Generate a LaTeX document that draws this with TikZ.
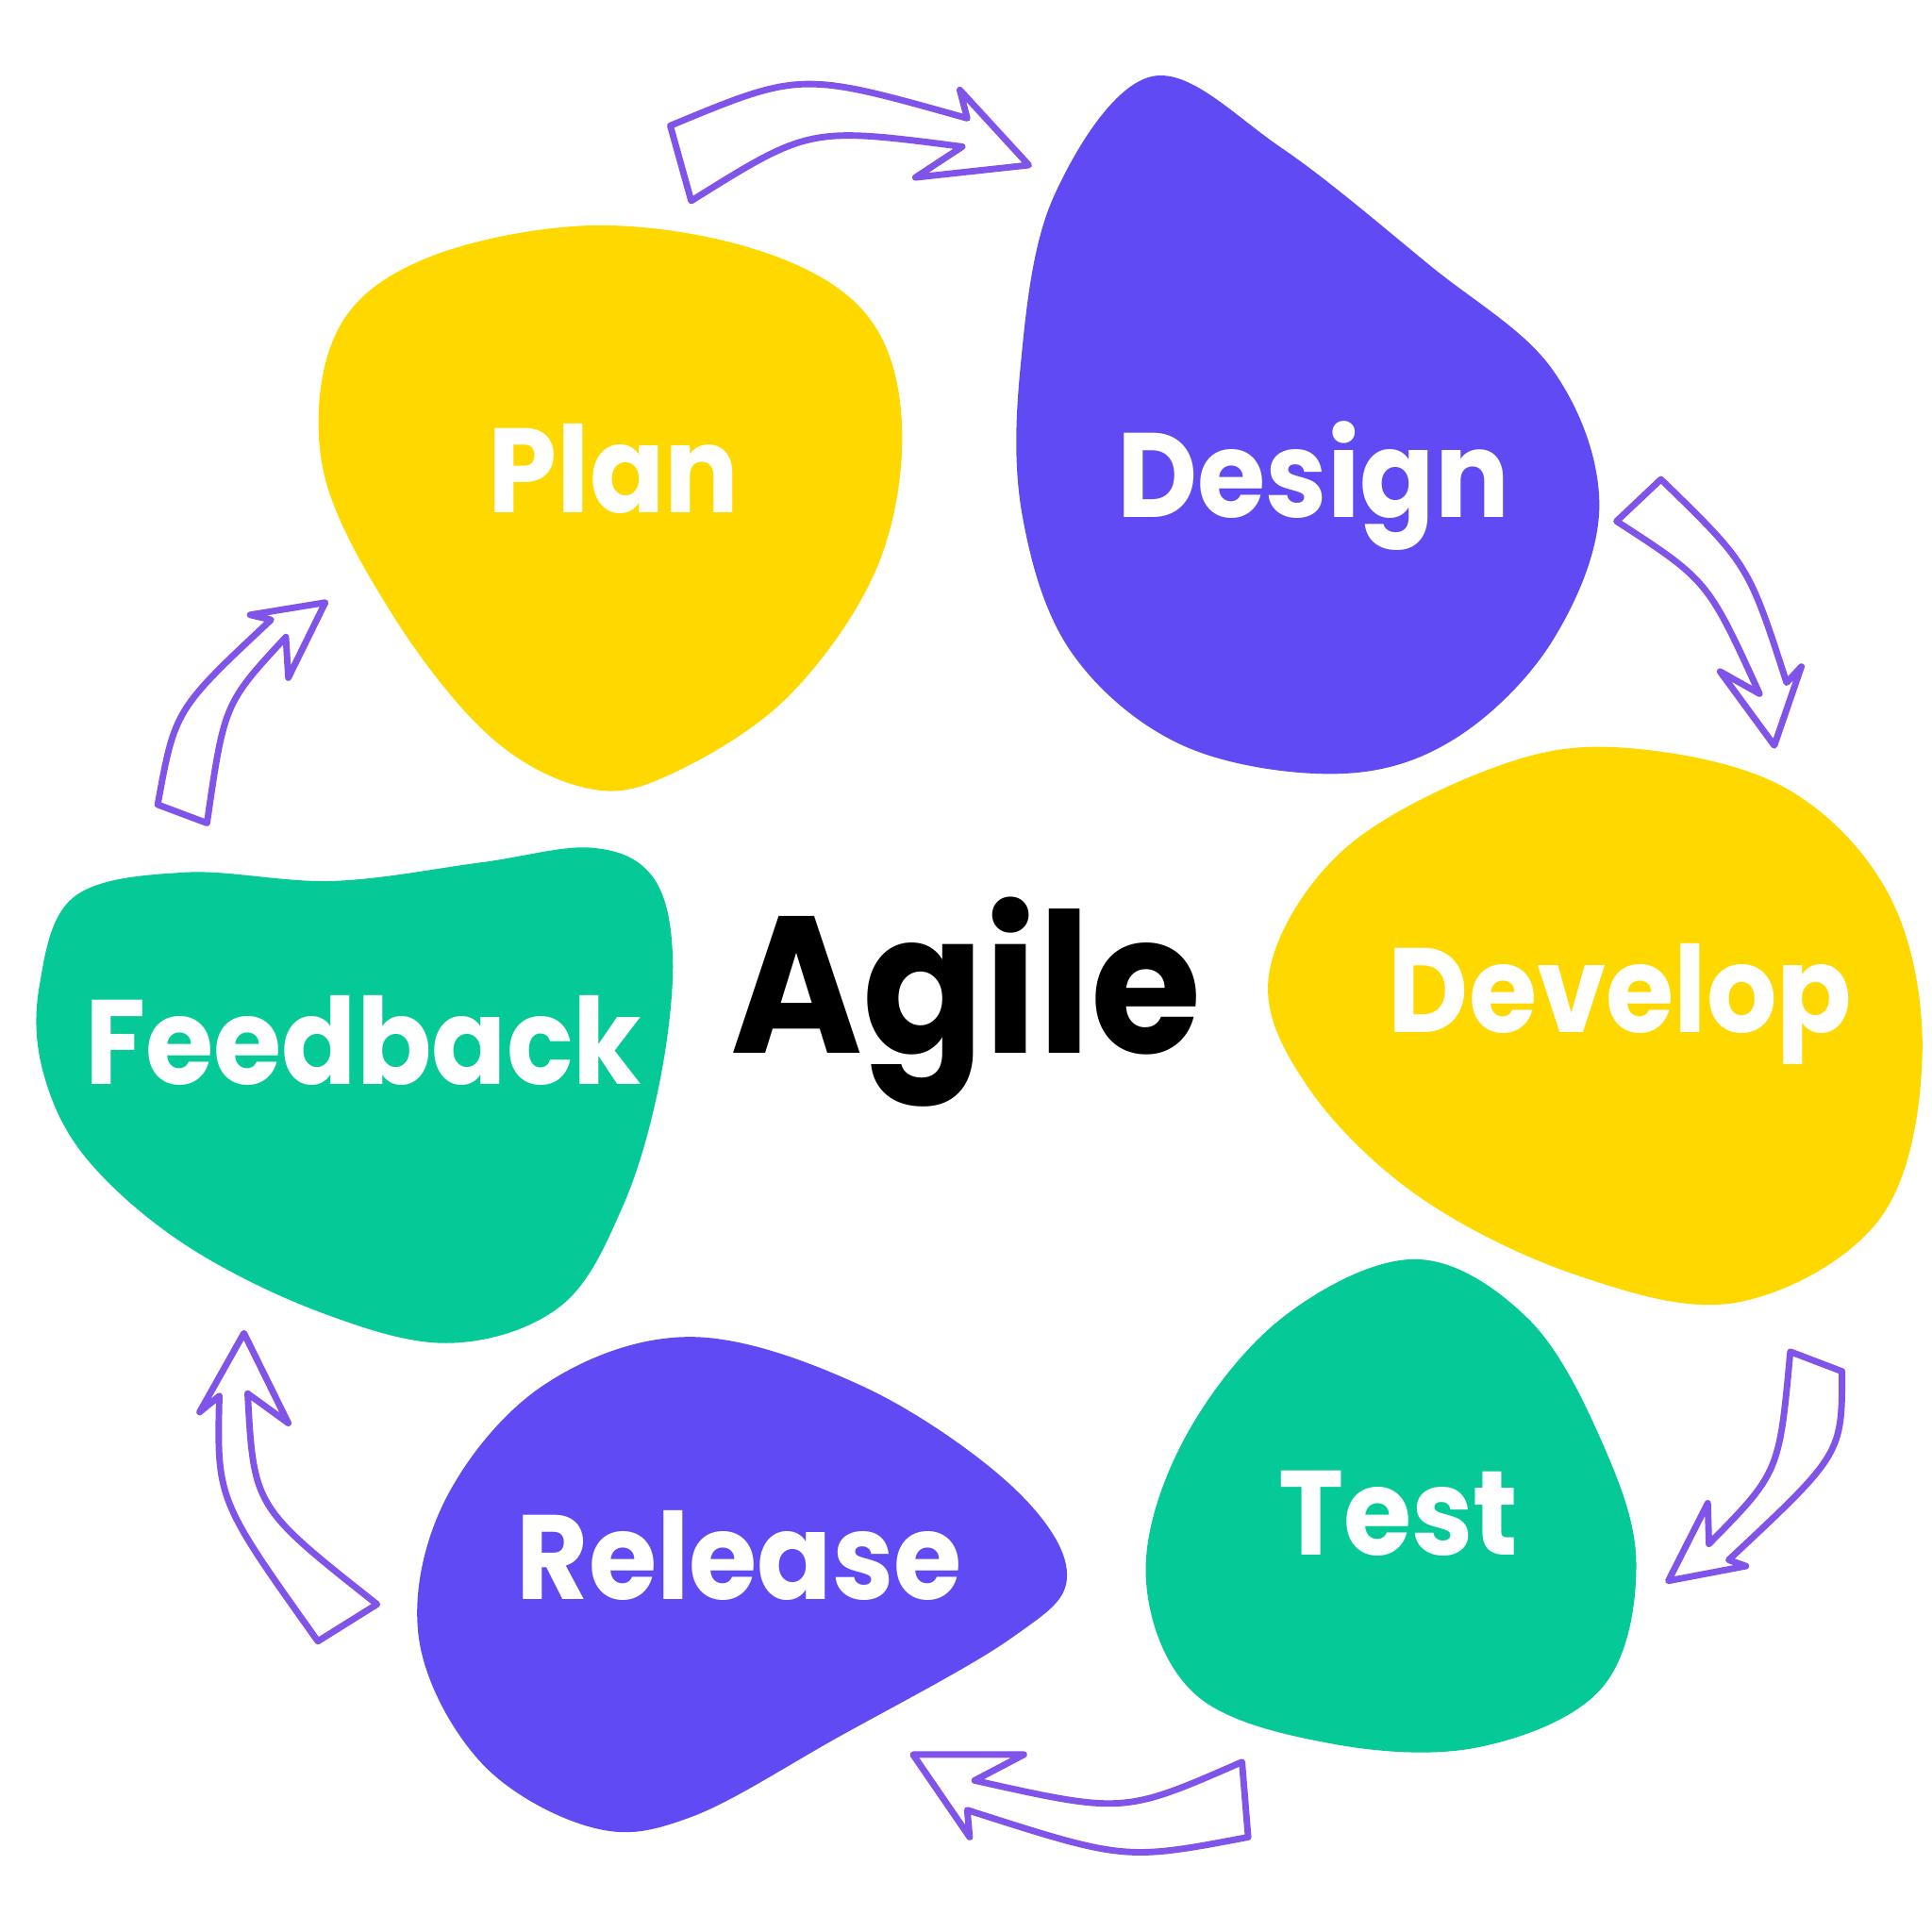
\documentclass[tikz,border=0pt]{standalone}
\usepackage{fontspec}
\setmainfont{Poppins}[FakeStretch=0.92]
\usepackage{tikz}
\usepackage{xcolor}
\usetikzlibrary{positioning}
\definecolor{sunyellow}{RGB}{255,216,0}
\definecolor{violet}{RGB}{96,74,243}
\definecolor{mint}{RGB}{5,201,151}
\definecolor{sketchline}{RGB}{128,84,232}

\begin{document}
\begin{tikzpicture}[x=0.01cm, y=-0.01cm,
    blob/.style={smooth cycle, tension=0.6},
    stage/.style={anchor=base, text=white, font=\fontsize{27.7}{30}\selectfont\bfseries},
    sketch/.style={draw=sketchline, line width=1.5pt, line join=round, line cap=round}]
    \useasboundingbox[fill=white] (0,0) rectangle (1568,1568);

    % blobs
    \fill[sunyellow] plot[blob] coordinates {(480,183) (615,203) (703,255) (732,345)
        (712,460) (640,565) (545,628) (478,640) (398,598) (318,498) (262,380)
        (273,270) (345,210)};
    \fill[violet] plot[blob] coordinates {(935,62) (1040,120) (1160,215) (1260,300)
        (1298,410) (1260,520) (1180,600) (1085,628) (960,605) (870,530) (830,420)
        (828,300) (855,160)};
    \fill[sunyellow] plot[blob] coordinates {(1030,790) (1090,690) (1215,622)
        (1320,607) (1450,640) (1535,730) (1560,860) (1525,990) (1410,1057)
        (1280,1035) (1150,970) (1060,880)};
    \fill[mint] plot[blob] coordinates {(1148,1022) (1240,1070) (1300,1170)
        (1328,1270) (1300,1370) (1200,1418) (1080,1415) (970,1375) (930,1280)
        (960,1170) (1040,1070)};
    \fill[violet] plot[blob] coordinates {(560,1085) (700,1125) (820,1205)
        (866,1278) (820,1330) (680,1410) (560,1475) (480,1483) (390,1430)
        (340,1330) (360,1220) (440,1125)};
    \fill[mint] plot[blob] coordinates {(32,800) (60,728) (150,708) (270,715)
        (390,700) (480,688) (530,712) (546,778) (535,880) (505,980) (455,1060)
        (365,1090) (260,1065) (150,1010) (70,940) (35,870)};

    \node[stage] (plan) at (498,416) {Plan};
    \node[stage] (design) at (1066,420) {Design};
    \node[stage] (develop) at (1315,838) {Develop};
    \node[stage] (test) at (1135,1262) {Test};
    \node[stage] (release) at (600,1298) {Release};
    \node[stage] (feedback) at (295,880) {Feedback};
    \node[anchor=base, font=\fontsize{45}{50}\selectfont\bfseries] (agile) at (784,855) {Agile};

    % hand drawn arrows
    \draw[sketch] (544,102) .. controls (650,58) .. (785,96) -- (779,73) -- (835,134)
        -- (743,144) -- (781,119) .. controls (657,103) .. (561,163) -- cycle;
    \draw[sketch] (1348,389) .. controls (1419,458) .. (1450,554) -- (1462,541)
        -- (1440,605) -- (1396,545) -- (1428,563) .. controls (1386,471) .. (1312,423) -- cycle;
    \draw[sketch] (1495,1113) .. controls (1495,1180) .. (1403,1266) -- (1417,1271)
        -- (1354,1283) -- (1386,1220) -- (1387,1253) .. controls (1444,1195) .. (1453,1097) -- cycle;
    \draw[sketch] (1008,1430) .. controls (912,1472) .. (791,1445) -- (831,1424)
        -- (741,1424) -- (787,1491) -- (785,1469) .. controls (913,1510) .. (1013,1491) -- cycle;
    \draw[sketch] (258,1332) .. controls (176,1217) .. (178,1133) -- (162,1146)
        -- (198,1082) -- (234,1155) -- (201,1131) .. controls (206,1223) .. (306,1302) -- cycle;
    \draw[sketch] (128,653) .. controls (142,576) .. (220,503) -- (203,499)
        -- (264,489) -- (234,550) -- (232,517) .. controls (182,571) .. (168,668) -- cycle;
\end{tikzpicture}
\end{document}
